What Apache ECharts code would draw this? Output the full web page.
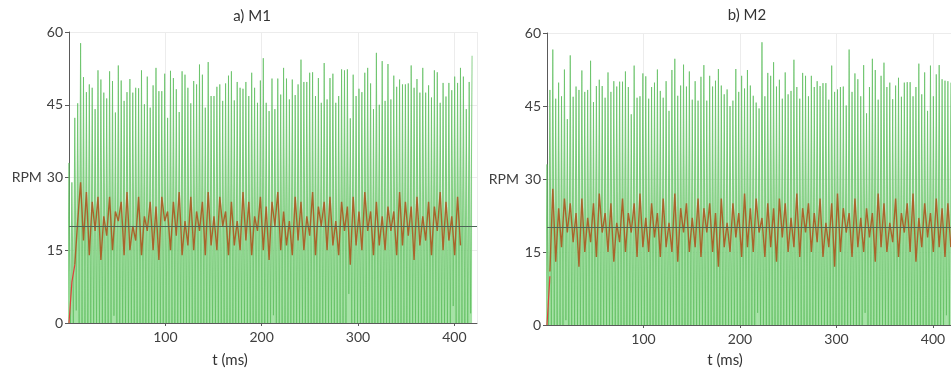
<!DOCTYPE html>
<html>
<head>
<meta charset="utf-8">
<script src="https://cdn.jsdelivr.net/npm/echarts@6/dist/echarts.min.js"></script>
<style>
  html, body { margin: 0; padding: 0; background: #ffffff; }
  #chart { width: 951px; height: 373px; }
</style>
</head>
<body>
<div id="chart"></div>
<script>
// sample spacing of the green peaks (ms)
const sampleStep = 3.01;
const yTicks = [0, 15, 30, 45, 60];
const panelTitles = ['a) M1', 'b) M2'];
const setpoint = 20;

// green: peak of each pulse, and the low point just before it
const peaksM1 = [
  33, 29, 42.3, 45.3, 57.7, 50.7, 47.6, 49.2, 48.5, 44.1, 52.1, 50.2,
  47.5, 46.3, 51.9, 49.9, 43.4, 53.1, 50, 45.8, 47.6, 50.3,
  47.5, 48.5, 48.4, 52.1, 45.1, 50.8, 44.4, 49, 52.6, 47.8,
  47.8, 51.4, 42.3, 52, 50.5, 48.2, 43.5, 51.9, 51.2, 48.5,
  45.3, 49.9, 49.2, 53.3, 51.2, 44.4, 53.8, 46.8, 46.8, 48.7,
  49.2, 45.8, 49.4, 51, 51.9, 45.9, 49.7, 48.5, 48.3, 49.7,
  46.8, 51.6, 48.5, 45.4, 50, 54.6, 45.4, 43.7, 50.4, 44.1,
  50.4, 47.1, 52.6, 50.4, 46.1, 50.2, 47, 49.2, 54.3, 49.7,
  49.7, 51.6, 51.7, 46.8, 50.5, 45.4, 53.6, 46.1, 50.5, 51.4,
  45.4, 46.8, 52.3, 52.1, 52.3, 42.2, 51.2, 46.8, 48.3, 47.6,
  51.6, 52.6, 49.4, 44.1, 55.7, 45, 54, 45.8, 53.4, 46.1,
  51, 48.7, 50.2, 49.2, 49.2, 49.4, 53.1, 48.5, 50.3, 47.5,
  52.6, 47.5, 49, 46.5, 52.1, 51.7, 45.4, 49.5, 46.7, 49.5,
  48, 50.8, 49.5, 52.6, 50.8, 44.1, 49.7, 55.1
];
const troughsM1 = [
  0, 0, 0, 2.6, 0, 0, 0, 0, 0, 0, 0, 0, 0, 0, 0, 0, 1.5, 0, 0, 0,
  0, 0, 0, 0, 0, 0, 0, 0, 0, 0, 0, 0, 0, 0, 0, 0, 0, 0, 0, 0,
  0, 0, 0, 0, 0, 0, 0, 0, 0, 0, 0, 0, 0, 0, 0, 0, 0, 0, 0, 0,
  0, 0, 0, 0, 0, 0, 0, 0, 0, 0, 0, 1.6, 0, 0, 0, 0, 0, 0, 0, 0,
  0, 0, 0, 0, 0, 0, 0, 0, 0, 0, 0, 0, 0, 0, 0, 0, 0, 6, 0, 0,
  0, 0, 0, 0, 0, 0, 0, 0, 0, 0, 0, 0, 0, 0, 0, 0, 0, 0, 0, 0,
  0, 0, 0, 0, 0, 0, 0, 0, 0, 0, 0, 0, 0, 3.5, 0, 0, 0, 0, 0, 2
];
const peaksM2 = [
  33, 48.3, 56.6, 46.5, 49.8, 47, 52.5, 42.3, 55.4, 46.9, 49,
  48.3, 52.3, 47.9, 48.3, 54.3, 45.8, 49.1, 50.4, 49.1, 46.7,
  51.9, 47.9, 50.1, 49, 50, 50, 52.1, 48.9, 43.3, 53.3,
  46.7, 47, 51.7, 51.1, 46.5, 48.9, 49.8, 52.5, 48.1, 46.7,
  50.1, 44, 52.4, 54.7, 47.1, 49.2, 53.5, 49, 52.1, 46.3,
  50.1, 46.1, 51, 53.4, 46.1, 51.2, 49, 50.2, 52.6,
  49.2, 47.4, 48.4, 45, 46.1, 52.6, 47.9, 51.2, 48.6, 52.4,
  49.2, 47.1, 45.7, 44.5, 58.1, 47, 51.8, 51.2, 54, 49,
  50.4, 46.5, 51.9, 47.4, 48.1, 54.5, 48.9, 46.5, 51.8, 51.2,
  47, 51.2, 48.9, 50.1, 49.1, 49.7, 49.7, 46.3, 53.3, 47.9,
  48.4, 48.9, 49, 45.1, 56.6, 47.9, 51.7, 50.5, 47, 53.4,
  43.5, 48.9, 54.7, 52.4, 46.3, 51.2, 53.9, 48.9, 49.8, 46.4,
  49.2, 50.8, 46.9, 49.8, 49.9, 49.9, 47, 48.9, 53.7, 47.4,
  51.9, 44, 53.3, 47, 51.5, 53.4, 50.5, 50.2, 50.1, 49.8
];
const troughsM2 = [
  0, 0, 0, 0, 0, 0, 0, 1, 0, 0, 0, 0, 0, 0, 0, 0, 0, 0, 0, 0,
  0, 0, 0, 0, 0, 0, 0, 0, 0, 0, 0, 0, 0, 0, 0, 0, 0, 0, 0, 0,
  0, 0, 0, 0, 0, 0, 0, 0, 0, 0, 0, 0, 0, 0, 0, 0, 0, 0, 0, 0,
  0, 0, 0, 0, 0, 0, 0, 0, 0, 0, 0, 0, 0, 2.5, 0, 0, 0, 0, 0, 0,
  0, 0, 0, 0, 0, 0, 0, 0, 0, 0, 0, 0, 0, 0, 0, 0, 0, 0, 0, 0,
  0, 0, 0, 0, 0, 0, 0, 0, 0, 0, 2.5, 0, 0, 0, 0, 0, 0, 0, 0, 0,
  0, 0, 0, 0, 0, 0, 0, 0, 0, 0, 0, 0, 0, 0, 0, 0, 0, 0, 2, 0
];

// brown: speed signal, one value per green peak time
const speedM1 = [
  null, null, 12, 21, 29, 17, 27, 14, 25, 19,
  26, 13, 22, 18, 26, 15, 23, 21, 25, 14,
  27, 15, 20, 17, 26, 14, 22, 19, 25, 15,
  24, 13, 26, 21, 23, 15, 25, 18, 27, 14,
  21, 16, 26, 15, 23, 19, 25, 14, 27, 16,
  22, 15, 26, 20, 23, 14, 25, 16, 21, 15,
  27, 17, 25, 14, 22, 19, 26, 15, 24, 13,
  25, 20, 27, 15, 23, 16, 21, 14, 26, 17,
  25, 15, 22, 18, 27, 14, 24, 20, 25, 15,
  26, 16, 21, 14, 25, 19, 24, 12, 26, 16,
  23, 15, 27, 19, 23, 14, 25, 16, 22, 15,
  24, 19, 23, 14, 27, 16, 25, 18, 24, 13,
  26, 16, 22, 17, 25, 14, 24, 19, 27, 15,
  25, 17, 22, 14, 26, 16
];
const speedM2 = [
  null, 11, 28, 13, 24, 16, 26, 19, 25, 17,
  23, 12, 26, 15, 22, 17, 25, 14, 27, 19,
  23, 15, 25, 13, 21, 17, 26, 15, 23, 19,
  25, 14, 27, 16, 22, 15, 25, 18, 23, 14,
  26, 16, 21, 15, 27, 13, 24, 19, 25, 15,
  22, 16, 26, 14, 24, 19, 25, 15, 23, 12,
  26, 16, 21, 15, 25, 18, 23, 14, 27, 16,
  24, 15, 26, 19, 22, 14, 25, 16, 24, 13,
  26, 18, 25, 15, 22, 16, 27, 14, 24, 19,
  25, 15, 23, 17, 26, 14, 21, 16, 25, 12,
  27, 15, 24, 19, 23, 14, 26, 16, 22, 15,
  24, 18, 23, 13, 27, 16, 25, 15, 21, 17,
  26, 14, 23, 19, 25, 15, 27, 13, 22, 16,
  25, 18, 23, 15, 26, 16, 24, 14, 25, 16
];
// red: start-up ramp
const rampM1 = [0, 8.5, 12];
const rampM2 = [0, 10];

const xMax = [423.5, 418.6];

const myChart = echarts.init(document.getElementById('chart'), null, { renderer: 'canvas' });

const fontFamily = 'Lato, "Open Sans", sans-serif';
const textColor = '#404040';

// 绿色脉冲: 谷值在峰值前半个采样
const greenData = (peaks, troughs) => {
  const out = [];
  peaks.forEach((p, i) => {
    out.push([(i - 0.5) * sampleStep, troughs[i]]);
    out.push([i * sampleStep, p]);
  });
  return out;
};
const onGrid = (vals) => vals.map((v, i) => [i * sampleStep, v]);

const grids = [
  { left: 69, top: 32, width: 408, height: 291 },
  { left: 547, top: 33, width: 404, height: 292 }
];

const xAxes = xMax.map((m, k) => ({
  type: 'value', gridIndex: k, min: 0, max: m, interval: 100,
  axisLine: { lineStyle: { color: '#5a5a5a', width: 1 } },
  axisTick: { length: 3, lineStyle: { color: '#5a5a5a' } },
  axisLabel: { showMinLabel: false, showMaxLabel: false, color: textColor, fontSize: 14, fontFamily, margin: 7 },
  splitLine: { show: true, lineStyle: { color: '#ececec' } }
}));

const yAxes = [0, 1].map(k => ({
  type: 'value', gridIndex: k, min: yTicks[0], max: yTicks[yTicks.length - 1], interval: 15,
  name: 'RPM', nameLocation: 'middle', nameRotate: 0, nameGap: k === 0 ? 27 : 28,
  nameTextStyle: { color: textColor, fontSize: 14, fontFamily, align: 'right' },
  axisLine: { show: true, lineStyle: { color: '#5a5a5a', width: 1 } },
  axisTick: { show: true, length: 4, lineStyle: { color: '#5a5a5a' } },
  axisLabel: { color: textColor, fontSize: 14, fontFamily, margin: 6 },
  splitLine: { show: true, lineStyle: { color: '#ececec' } }
}));

const series = [];
[[peaksM1, troughsM1, speedM1, rampM1], [peaksM2, troughsM2, speedM2, rampM2]].forEach((set, k) => {
  series.push({
    type: 'line', xAxisIndex: k, yAxisIndex: k,
    data: greenData(set[0], set[1]),
    showSymbol: false, symbol: 'none',
    lineStyle: { color: '#5cbd5c', width: 0.7 },
    areaStyle: { color: '#a6e2a6', opacity: 1 },
    z: 2
  });
  series.push({
    type: 'line', xAxisIndex: k, yAxisIndex: k,
    data: onGrid(set[2]),
    showSymbol: false, symbol: 'none', connectNulls: false,
    lineStyle: { color: '#a9642b', width: 1.4 },
    markLine: {
      silent: true, symbol: ['none', 'none'], label: { show: false },
      lineStyle: { color: '#4c6657', width: 1.2, type: 'solid' },
      data: [{ yAxis: setpoint }]
    },
    z: 3
  });
  series.push({
    type: 'line', xAxisIndex: k, yAxisIndex: k,
    data: onGrid(set[3]),
    showSymbol: false, symbol: 'none',
    lineStyle: { color: '#e0403c', width: 1.2 },
    z: 4
  });
});

const textEl = (txt, x, y) => ({
  type: 'text', x, y, silent: true,
  style: { text: txt, fill: '#333333', font: '15px ' + fontFamily, align: 'center', verticalAlign: 'middle' }
});

const option = {
  animation: false,
  backgroundColor: '#ffffff',
  grid: grids,
  xAxis: xAxes,
  yAxis: yAxes,
  series,
  graphic: [
    textEl(panelTitles[0], 252, 16),
    textEl(panelTitles[1], 747, 15),
    textEl('t (ms)', 230, 360),
    textEl('t (ms)', 725, 360)
  ]
};

myChart.setOption(option);
</script>
</body>
</html>
